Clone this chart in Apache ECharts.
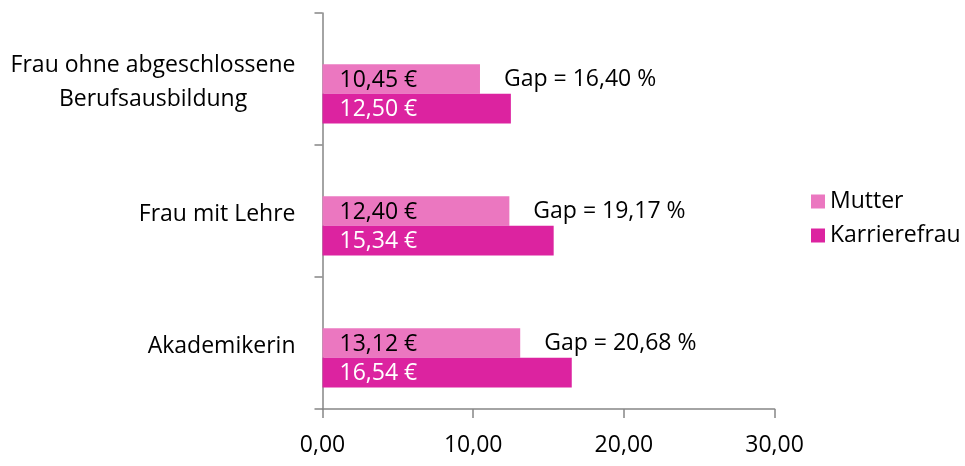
<!DOCTYPE html>
<html>
<head>
<meta charset="utf-8">
<script src="https://cdn.jsdelivr.net/npm/echarts@6/dist/echarts.min.js"></script>
<style>
  html, body { margin: 0; padding: 0; background: #ffffff; }
  #chart { width: 965px; height: 466px; }
</style>
</head>
<body>
<div id="chart"></div>
<script>
// Hourly wages by qualification: mothers vs. career women
const categories = ['Frau ohne abgeschlossene\nBerufsausbildung', 'Frau mit Lehre', 'Akademikerin'];
const mutter = [10.45, 12.40, 13.12];
const karrierefrau = [12.50, 15.34, 16.54];
const gapPct = [16.40, 19.17, 20.68];
const xMin = 0, xMax = 30, xStep = 10;

const FONT = '"Open Sans", "Liberation Sans", sans-serif';
const AXIS_GREY = '#868686';
const fmt = v => v.toFixed(2).replace('.', ',');

const chart = echarts.init(document.getElementById('chart'));
chart.setOption({
  animation: false,
  backgroundColor: '#ffffff',
  textStyle: { fontFamily: FONT },
  grid: { left: 322.5, right: 190.4, top: 13, bottom: 57, containLabel: false },
  legend: {
    data: ['Mutter', 'Karrierefrau'],
    orient: 'vertical',
    left: 806,
    top: 185,
    icon: 'rect',
    itemWidth: 14,
    itemHeight: 14,
    itemGap: 11,
    textStyle: { fontFamily: FONT, fontSize: 23, lineHeight: 23, color: '#000', padding: [0, 0, 0, 0] }
  },
  xAxis: {
    type: 'value',
    min: xMin,
    max: xMax,
    interval: xStep,
    splitLine: { show: false },
    axisLine: { show: true, lineStyle: { color: AXIS_GREY, width: 1.5 } },
    axisTick: { show: true, length: 9, lineStyle: { color: AXIS_GREY, width: 1.5 } },
    axisLabel: {
      margin: 25,
      fontFamily: FONT,
      fontSize: 23,
      color: '#000',
      formatter: v => fmt(v)
    }
  },
  yAxis: {
    type: 'category',
    inverse: true,
    data: categories,
    axisLine: { show: true, lineStyle: { color: AXIS_GREY, width: 1.5 } },
    axisTick: { show: true, length: 8, lineStyle: { color: AXIS_GREY, width: 1.5 } },
    axisLabel: {
      margin: 27,
      padding: [6, 0, 0, 0],
      color: '#000',
      formatter: v => v.split('\n').map(l => '{c|' + l + '}').join('\n'),
      rich: {
        c: { fontFamily: FONT, fontSize: 23, lineHeight: 34, align: 'center', color: '#000' }
      }
    }
  },
  series: [
    {
      // empty slot above each pair; carries the gap annotation next to the Mutter bar
      name: 'Gap',
      type: 'bar',
      barGap: 0,
      barCategoryGap: '32.5%',
      data: mutter,
      itemStyle: { color: 'rgba(0,0,0,0)' },
      silent: true,
      label: {
        show: true,
        position: 'right',
        distance: 24,
        offset: [0, 29.7],
        fontFamily: FONT,
        fontSize: 23,
        color: '#000',
        formatter: p => 'Gap = ' + fmt(gapPct[p.dataIndex]) + ' %'
      }
    },
    {
      name: 'Mutter',
      type: 'bar',
      barGap: 0,
      barCategoryGap: '32.5%',
      data: mutter,
      itemStyle: { color: '#EB77C0' },
      label: {
        show: true,
        position: 'insideLeft',
        distance: 17,
        offset: [0, 1],
        fontFamily: FONT,
        fontSize: 23,
        color: '#000',
        formatter: p => fmt(p.value) + ' €'
      }
    },
    {
      name: 'Karrierefrau',
      type: 'bar',
      barGap: 0,
      barCategoryGap: '32.5%',
      data: karrierefrau,
      itemStyle: { color: '#DC23A0' },
      label: {
        show: true,
        position: 'insideLeft',
        distance: 17,
        offset: [0, 1],
        fontFamily: FONT,
        fontSize: 23,
        color: '#fff',
        formatter: p => fmt(p.value) + ' €'
      }
    }
  ]
});
</script>
</body>
</html>
